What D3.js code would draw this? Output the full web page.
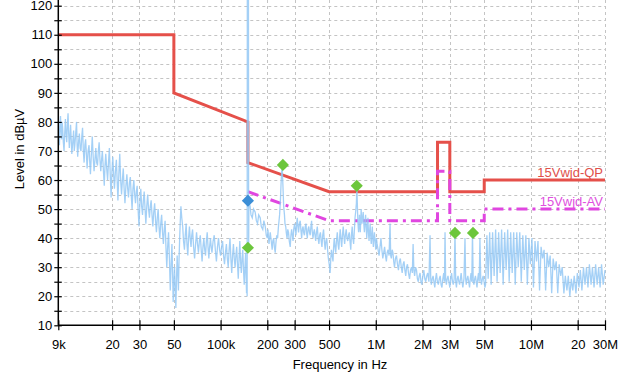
<!DOCTYPE html>
<html><head><meta charset="utf-8">
<script src="https://cdn.jsdelivr.net/npm/d3@7"></script>
<style>body{margin:0;background:#fff}svg{display:block;font-family:Arial,"Liberation Sans",sans-serif}</style>
</head><body><svg id="c" width="632" height="373"></svg>
<script>
// ---------- data ----------
const freqTicks = [9e3, 2e4, 3e4, 5e4, 1e5, 2e5, 3e5, 5e5, 1e6, 2e6, 3e6, 5e6, 1e7, 2e7, 3e7];
const freqTickLabels = ["9k","20","30","50","100k","200","300","500","1M","2M","3M","5M","10M","20","30M"];
const levelTicks = [10,15,20,25,30,35,40,45,50,55,60,65,70,75,80,85,90,95,100,105,110,115,120];

// limit lines (Hz, dBµV)
const qpFreq  = [9e3, 5e4, 5e4, 1.5e5, 1.5e5, 5e5, 2.5e6, 2.5e6, 3e6, 3e6, 5e6, 5e6, 3e7];
const qpLevel = [110, 110, 90, 80, 66, 56, 56, 73, 73, 56, 56, 60, 60];
const avFreq  = [1.5e5, 5e5, 2.5e6, 2.5e6, 3e6, 3e6, 5e6, 5e6, 3e7];
const avLevel = [56, 46, 46, 63, 63, 46, 46, 50, 50];
const qpName = "15Vwjd-QP", avName = "15Vwjd-AV";

// measured spectrum, [kHz, dBµV]
const spec9kTo55k = [[9.0,80],[9.07,75],[9.15,72],[9.22,79],[9.3,82],[9.37,77],[9.45,74],[9.52,80],[9.6,78],[9.7,73],[9.8,70],[9.9,76],[10.0,81],[10.1,76],[10.2,73],[10.3,79],[10.4,83],[10.5,76],[10.6,71],[10.7,75],[10.8,79],[10.9,74],[11.0,69],[11.15,73],[11.3,77],[11.4,70],[11.5,72],[11.65,76],[11.8,80],[11.9,72],[12.0,68],[12.15,73],[12.3,76],[12.45,71],[12.6,70],[12.75,75],[12.9,78],[13.05,70],[13.2,66],[13.35,72],[13.5,74],[13.65,69],[13.8,64],[14.0,70],[14.2,72],[14.35,66],[14.5,62],[14.7,69],[14.9,75],[15.1,68],[15.3,63],[15.5,67],[15.7,71],[15.9,66],[16.1,65],[16.3,70],[16.5,73],[16.7,67],[16.9,63],[17.1,67],[17.3,70],[17.55,64],[17.8,58],[18.0,65],[18.2,69],[18.45,64],[18.7,60],[18.95,66],[19.2,71],[19.45,62],[19.7,54],[19.95,63],[20.2,68],[20.45,62],[20.7,57],[21.0,63],[21.3,67],[21.55,60],[21.8,53],[22.1,62],[22.4,69],[22.7,60],[23.0,55],[23.3,60],[23.6,64],[23.9,57],[24.2,52],[24.55,58],[24.9,62],[25.2,57],[25.5,54],[25.85,59],[26.2,61],[26.55,55],[26.9,50],[27.25,57],[27.6,60],[27.95,55],[28.3,52],[28.65,56],[29.0,58],[29.4,50],[29.8,44],[30.2,52],[30.6,57],[31.0,51],[31.4,48],[31.8,53],[32.2,56],[32.6,50],[33.0,45],[33.45,51],[33.9,55],[34.35,50],[34.8,47],[35.25,51],[35.7,53],[36.15,48],[36.6,44],[37.1,49],[37.6,52],[38.1,46],[38.6,42],[39.1,47],[39.6,50],[40.1,44],[40.6,40],[41.15,45],[41.7,48],[42.25,42],[42.8,38],[43.35,43],[43.9,46],[44.45,37],[45.0,30],[45.6,37],[46.2,42],[46.8,33],[47.4,22],[48.0,31],[48.6,38],[49.05,28],[49.5,18],[50.0,25],[50.5,30],[51.0,22],[51.5,16],[52.0,26],[52.5,34],[53.0,28],[53.5,22],[54.0,33],[54.5,40],[55.0,46],[55.5,51]];
const spec55kTo150k = [[56.2,47],[57,44],[57.7,39],[58.5,36],[59.2,41],[60,45],[60.7,38],[61.5,34],[62.2,40],[63,44],[63.7,40],[64.5,37],[65.2,41],[66,43],[67,37],[68,33],[69,38],[70,42],[71,38],[72,35],[73,39],[74,41],[75,36],[76,32],[77,37],[78,40],[79,36],[80,34],[81,39],[82,42],[83,37],[84,33],[85,37],[86,40],[87,37],[88,35],[89.5,39],[91,41],[92.5,36],[94,32],[95.5,37],[97,40],[98.5,36],[100,34],[101.5,37],[103,39],[104.5,34],[106,31],[107.5,35],[109,38],[110.5,33],[112,30],[113.5,36],[115,40],[116.5,33],[118,28],[119.5,34],[121,38],[122.5,33],[124,30],[125.5,34],[127,37],[128.5,31],[130,26],[131.5,33],[133,39],[134.5,32],[136,28],[137.5,33],[139,36],[140.5,29],[142,24],[143.5,30],[145,35],[146,27],[147,21],[147.8,27],[148.3,20],[148.7,134],[151.2,134],[151.6,36],[152.3,53]];
const spec150kTo1M = [[153,52],[155,51],[157,48],[160,47],[163,50],[167,49],[170,46],[173,45],[176,48],[180,47],[183,44],[187,43],[190,46],[194,44],[197,41],[200,40],[202,43],[205,38],[207,40],[209,42],[212,39],[215,36],[217,39],[220,40],[222,37],[225,35],[227,38],[230,41],[233,40],[236,44],[238,46],[240,48],[243,53],[245,58],[247,62],[249,65],[251,61],[253,56],[255,51],[258,48],[260,45],[263,44],[265,42],[268,40],[271,43],[274,42],[277,39],[281,37],[284,41],[287,43],[290,41],[293,39],[296,43],[300,45],[303,43],[306,41],[309,45],[312,47],[315,44],[318,42],[322,45],[326,46],[329,43],[333,40],[336,43],[340,44],[343,42],[347,41],[351,44],[355,45],[358,42],[362,40],[366,43],[370,44],[374,42],[378,41],[382,44],[386,46],[390,42],[394,40],[398,42],[402,43],[406,41],[410,39],[415,42],[420,44],[425,40],[430,38],[435,41],[440,42],[445,39],[450,37],[455,41],[461,43],[466,39],[472,36],[477,39],[483,40],[489,36],[495,33],[501,31],[508,28],[513,33],[518,36],[524,34],[530,32],[535,37],[540,40],[546,37],[552,35],[558,39],[565,42],[571,38],[578,36],[584,40],[590,43],[596,40],[603,37],[610,41],[617,44],[623,41],[630,38],[637,41],[645,43],[652,40],[660,39],[667,41],[675,42],[682,39],[690,36],[697,41],[705,44],[712,40],[720,38],[727,42],[735,47],[742,49],[750,52],[753,55],[756,58],[759,54],[762,50],[768,45],[775,42],[780,45],[785,48],[790,44],[795,42],[800,46],[805,50],[810,47],[815,45],[822,47],[830,49],[837,45],[845,42],[852,45],[860,48],[867,44],[875,40],[882,44],[890,47],[897,42],[905,39],[912,42],[920,45],[927,41],[935,38],[942,41],[950,44],[957,40],[965,37],[972,40],[980,42],[990,39],[1000,36]];
const spec1MTo5M = [[1010,40],[1020,38],[1035,36],[1050,34],[1065,37],[1080,40],[1095,36],[1110,33],[1125,35],[1140,37],[1155,34],[1170,32],[1185,35],[1200,36],[1218,34],[1236,45],[1248,34],[1260,33],[1275,36],[1290,35],[1305,32],[1320,30],[1340,33],[1360,34],[1380,31],[1400,29],[1420,32],[1440,33],[1460,30],[1480,28],[1500,31],[1520,32],[1540,29],[1560,27],[1580,30],[1600,31],[1625,28],[1650,26],[1675,29],[1700,30],[1720,28],[1740,38],[1760,29],[1780,27],[1805,30],[1830,29],[1855,26],[1880,25],[1905,27],[1930,28],[1955,25],[1980,24],[2010,27],[2040,29],[2070,26],[2100,25],[2130,27],[2160,28],[2200,25],[2237,41],[2260,26],[2280,24],[2310,26],[2340,27],[2370,25],[2400,23],[2430,26],[2460,28],[2495,25],[2530,24],[2565,26],[2600,27],[2635,24],[2670,23],[2705,26],[2740,28],[2770,25],[2795,42],[2820,26],[2850,24],[2885,26],[2920,27],[2960,25],[3000,23],[3040,26],[3080,28],[3120,25],[3160,24],[3200,26],[3240,42],[3275,25],[3310,23],[3350,26],[3390,27],[3430,25],[3470,24],[3510,26],[3550,28],[3595,25],[3640,23],[3700,26],[3758,40],[3795,26],[3830,24],[3875,26],[3920,27],[3970,25],[4020,23],[4065,26],[4110,28],[4155,25],[4200,42],[4245,25],[4290,24],[4340,26],[4390,27],[4440,25],[4490,23],[4540,26],[4590,28],[4640,25],[4690,40],[4745,26],[4800,24],[4860,26],[4920,27],[4985,25],[5050,23]];
const spec5MTo30M = [[5100,24],[5200,41],[5300,26],[5420,42],[5540,24],[5660,42],[5790,27],[5920,43],[6050,25],[6190,42],[6330,28],[6470,43],[6620,24],[6770,42],[6920,29],[7080,43],[7240,25],[7400,42],[7570,28],[7740,42],[7920,24],[8100,42],[8280,30],[8470,42],[8660,25],[8860,41],[9060,29],[9270,41],[9480,24],[9700,40],[9920,31],[10150,40],[10380,23],[10620,39],[10860,32],[11100,39],[11360,22],[11620,37],[11880,33],[12150,36],[12430,22],[12710,35],[13000,30],[13300,34],[13600,21],[13900,33],[14220,29],[14550,32],[14880,21],[15200,31],[15560,27],[15900,30],[16300,21],[16650,27],[17050,22],[17400,27],[17800,20],[18200,26],[18600,22],[19000,27],[19500,21],[19900,28],[20400,23],[20800,29],[21300,22],[21800,30],[22300,24],[22800,30],[23300,23],[23800,31],[24400,24],[24900,30],[25500,23],[26100,31],[26700,24],[27300,30],[27900,23],[28500,31],[29200,24],[30000,29]];

// markers (Hz, dBµV)
const greenMarkerFreq  = [1.5e5, 2.52e5, 7.54e5, 3.24e6, 4.23e6];
const greenMarkerLevel = [36.7, 65.2, 58, 41.8, 41.8];
const blueMarkerFreq  = [1.5e5];
const blueMarkerLevel = [52.9];

// ---------- drawing ----------
const svg = d3.select("#c");
const X0 = 58.3, X1 = 605, YB = 325.3, YT = 5.7;
const x = d3.scaleLog().domain([9e3, 3e7]).range([X0, X1]);
const y = d3.scaleLinear().domain([10, 120]).range([YB, YT]);

svg.append("defs").append("clipPath").attr("id","plot")
  .append("rect").attr("x", X0).attr("y", 0).attr("width", X1 - X0 + 1).attr("height", YB);

// grid
const grid = svg.append("g").attr("stroke", "#c4c4c4").attr("stroke-dasharray", "3,3").attr("stroke-width", 1);
grid.selectAll("line.h").data(levelTicks.filter(v => v > 10)).join("line")
  .attr("x1", X0).attr("x2", X1).attr("y1", d => Math.round(y(d)) + 0.5).attr("y2", d => Math.round(y(d)) + 0.5);
grid.selectAll("line.v").data(freqTicks.slice(1)).join("line")
  .attr("y1", 0).attr("y2", YB).attr("x1", d => Math.round(x(d)) + 0.5).attr("x2", d => Math.round(x(d)) + 0.5);

const plot = svg.append("g").attr("clip-path", "url(#plot)");

// limit lines
const lim = d3.line().x(d => x(d[0])).y(d => y(d[1]));
plot.append("path").datum(qpFreq.map((f, i) => [f, qpLevel[i]]))
  .attr("d", lim).attr("fill", "none").attr("stroke", "#e5504a").attr("stroke-width", 3);
plot.append("path").datum(avFreq.map((f, i) => [f, avLevel[i]]))
  .attr("d", lim).attr("fill", "none").attr("stroke", "#e046e0").attr("stroke-width", 3)
  .attr("stroke-dasharray", "11,5,3,5");

// spectrum
const spectrum = [].concat(spec9kTo55k, spec55kTo150k, spec150kTo1M, spec1MTo5M, spec5MTo30M);
plot.append("path").datum(spectrum)
  .attr("d", d3.line().x(d => x(d[0] * 1e3)).y(d => y(d[1])))
  .attr("fill", "none").attr("stroke", "#94c8f5").attr("stroke-width", 1.3)
  .attr("stroke-opacity", 0.85).attr("stroke-linejoin", "miter");

// markers
const diamond = (g, fs, ls, color) => g.selectAll(null).data(fs.map((f, i) => [f, ls[i]])).join("rect")
  .attr("x", -4.3).attr("y", -4.3).attr("width", 8.6).attr("height", 8.6)
  .attr("fill", color)
  .attr("transform", d => `translate(${x(d[0])},${y(d[1])}) rotate(45)`);
const mk = svg.append("g");
diamond(mk, greenMarkerFreq, greenMarkerLevel, "#6cc63c");
diamond(mk, blueMarkerFreq, blueMarkerLevel, "#3b8ed6");

// limit labels
svg.append("text").attr("x", 603).attr("y", 177).attr("text-anchor", "end")
  .attr("font-size", 13).attr("fill", "#e0504a").text(qpName);
svg.append("text").attr("x", 603).attr("y", 206).attr("text-anchor", "end")
  .attr("font-size", 13).attr("fill", "#e050e0").text(avName);

// axes
const ya = svg.append("g").attr("transform", `translate(${X0},0)`)
  .call(d3.axisLeft(y).tickValues(levelTicks).tickFormat(d => d % 10 === 0 ? d : "")
    .tickSize(4).tickSizeOuter(0).tickPadding(2));
ya.select(".domain").remove();
ya.selectAll(".tick line").attr("x1", 3.5).attr("stroke", "#000").attr("stroke-width", 1.2);
ya.selectAll("text").attr("font-size", 13).attr("fill", "#000").attr("font-family", "Arial,'Liberation Sans',sans-serif");

const xa = svg.append("g").attr("transform", `translate(0,${YB})`)
  .call(d3.axisBottom(x).tickValues(freqTicks).tickFormat((d, i) => freqTickLabels[i])
    .tickSize(5).tickSizeOuter(0).tickPadding(9));
xa.select(".domain").remove();
xa.selectAll(".tick line").attr("y1", -5).attr("stroke", "#000").attr("stroke-width", 1.2);
xa.selectAll("text").attr("font-size", 13).attr("fill", "#000").attr("font-family", "Arial,'Liberation Sans',sans-serif");

svg.append("line").attr("x1", X0).attr("x2", X0).attr("y1", 0).attr("y2", YB).attr("stroke", "#000").attr("stroke-width", 1.5);
svg.append("line").attr("x1", X0).attr("x2", X1).attr("y1", YB).attr("y2", YB).attr("stroke", "#000").attr("stroke-width", 1.5);

// axis titles
svg.append("text").attr("transform", "translate(24,149) rotate(-90)").attr("text-anchor", "middle")
  .attr("font-size", 13).attr("fill", "#000").text("Level in dBµV");
svg.append("text").attr("x", 340).attr("y", 368.5).attr("text-anchor", "middle")
  .attr("font-size", 13).attr("fill", "#000").text("Frequency in Hz");
</script></body></html>
